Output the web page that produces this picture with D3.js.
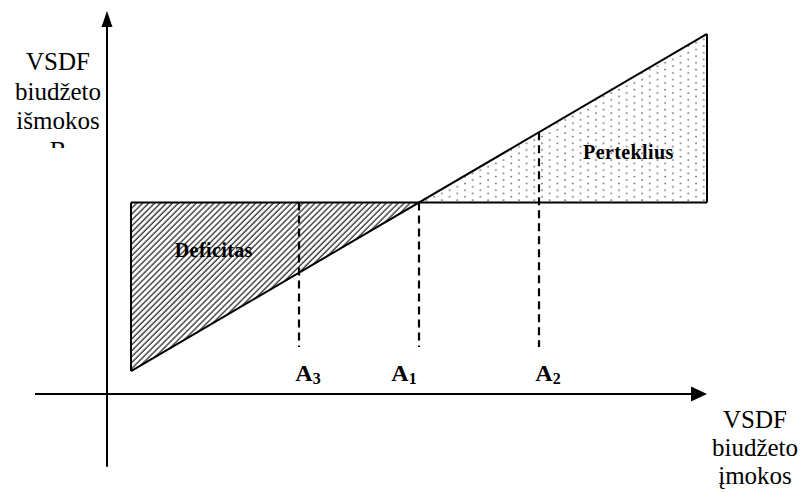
<!DOCTYPE html>
<html lang="lt">
<head>
<meta charset="utf-8">
<title>VSDF biudžetas</title>
<script src="https://cdn.jsdelivr.net/npm/d3@7"></script>
<style>
  body { margin: 0; background: #fff; }
  svg { display: block; }
  text { font-family: "Liberation Serif", "Times New Roman", serif; fill: #000; }
</style>
</head>
<body>
<script>
// chart values (in diagram units)
var axisXExtent = [-12, 100];
var axisYExtent = [-19, 100];
var outflowLevel = 50;                 // horizontal line: išmokos
var inflowLine = [[4, 6], [100, 94]];  // sloped line: įmokos
var pointNames = ["A", "A", "A"];
var pointSubs = ["3", "1", "2"];
var pointX = [32, 52, 72];
var dashFloor = 12.3;
var areaNames = ["Deficitas", "Perteklius"];
var yTitle = ["VSDF", "biudžeto", "išmokos", "B"];
var xTitle = ["VSDF", "biudžeto", "įmokos"];

var width = 802, height = 492;

var x = d3.scaleLinear().domain([0, 100]).range([107, 707]);
var y = d3.scaleLinear().domain([0, 100]).range([394, 11]);

function inflowAt(v) {
  var a = inflowLine[0], b = inflowLine[1];
  return a[1] + (v - a[0]) * (b[1] - a[1]) / (b[0] - a[0]);
}
function inflowInverse(level) {
  var a = inflowLine[0], b = inflowLine[1];
  return a[0] + (level - a[1]) * (b[0] - a[0]) / (b[1] - a[1]);
}
var cross = inflowInverse(outflowLevel);

var svg = d3.select("body").append("svg")
  .attr("width", width)
  .attr("height", height);

var defs = svg.append("defs");

// diagonal hatching for the deficit
var hatch = defs.append("pattern")
  .attr("id", "hatch")
  .attr("patternUnits", "userSpaceOnUse")
  .attr("width", 4.2).attr("height", 4.2)
  .attr("patternTransform", "rotate(45)");
hatch.append("rect").attr("width", 4.2).attr("height", 4.2).attr("fill", "#fff");
hatch.append("line")
  .attr("x1", 1).attr("y1", 0).attr("x2", 1).attr("y2", 4.2)
  .attr("stroke", "#3a3a3a").attr("stroke-width", 1.4);

// dot screen for the surplus
var dots = defs.append("pattern")
  .attr("id", "dots")
  .attr("patternUnits", "userSpaceOnUse")
  .attr("x", 1).attr("y", 1)
  .attr("width", 15.4).attr("height", 6.7);
dots.append("rect").attr("width", 15.4).attr("height", 6.7).attr("fill", "#fff");
dots.append("circle").attr("cx", 2).attr("cy", 1.5).attr("r", 0.85).attr("fill", "#555");
dots.append("circle").attr("cx", 9.7).attr("cy", 4.85).attr("r", 0.85).attr("fill", "#555");

defs.append("clipPath").attr("id", "clipTitle")
  .append("rect").attr("x", 0).attr("y", 0).attr("width", 105).attr("height", 148);

var line = d3.line().x(function(d) { return x(d[0]); }).y(function(d) { return y(d[1]); });

var left = inflowLine[0][0], right = inflowLine[1][0];

var deficit = [[left, outflowLevel], [cross, outflowLevel], [left, inflowAt(left)]];
var surplus = [[cross, outflowLevel], [right, outflowLevel], [right, inflowAt(right)]];

svg.append("path").attr("d", line(deficit) + "Z").attr("fill", "url(#hatch)");
svg.append("path").attr("d", line(surplus) + "Z").attr("fill", "url(#dots)");

// dashed guides
svg.selectAll(".guide")
  .data(pointX)
  .enter().append("line")
  .attr("class", "guide")
  .attr("x1", function(d) { return x(d); })
  .attr("x2", function(d) { return x(d); })
  .attr("y1", function(d) { return y(Math.max(outflowLevel, inflowAt(d))); })
  .attr("y2", y(dashFloor))
  .attr("stroke", "#000")
  .attr("stroke-width", 2.2)
  .attr("stroke-dasharray", "8,5");

// outlines
var outline = svg.append("g")
  .attr("stroke", "#000").attr("stroke-width", 2).attr("fill", "none");
outline.append("path").attr("d", line([[left, outflowLevel], [right, outflowLevel]]));
outline.append("path").attr("d", line(inflowLine));
outline.append("path").attr("d", line([[left, outflowLevel], [left, inflowAt(left)]]));
outline.append("path").attr("d", line([[right, outflowLevel], [right, inflowAt(right)]]));

// axes with arrows
var axes = svg.append("g");
axes.append("line")
  .attr("x1", x(axisXExtent[0])).attr("x2", x(axisXExtent[1]) - 14)
  .attr("y1", y(0)).attr("y2", y(0))
  .attr("stroke", "#000").attr("stroke-width", 2);
axes.append("line")
  .attr("x1", x(0)).attr("x2", x(0))
  .attr("y1", y(axisYExtent[0])).attr("y2", y(axisYExtent[1]) + 14)
  .attr("stroke", "#000").attr("stroke-width", 2);

var xt = x(axisXExtent[1]), yt = y(axisYExtent[1]);
axes.append("path")
  .attr("d", "M" + xt + "," + y(0) + "L" + (xt - 16) + "," + (y(0) - 7.5) + "L" + (xt - 16) + "," + (y(0) + 7.5) + "Z")
  .attr("fill", "#000");
axes.append("path")
  .attr("d", "M" + x(0) + "," + yt + "L" + (x(0) - 5.5) + "," + (yt + 16) + "L" + (x(0) + 5.5) + "," + (yt + 16) + "Z")
  .attr("fill", "#000");

// point labels A3, A1, A2
var labelShift = [9, -15, 9];
var pl = svg.selectAll(".plabel")
  .data(pointX)
  .enter().append("text")
  .attr("class", "plabel")
  .attr("x", function(d, i) { return x(d) + labelShift[i]; })
  .attr("y", 381)
  .attr("text-anchor", "middle")
  .attr("font-weight", "bold")
  .attr("font-size", 24);
pl.append("tspan").text(function(d, i) { return pointNames[i]; });
pl.append("tspan")
  .attr("font-size", 16)
  .attr("dy", 3)
  .text(function(d, i) { return pointSubs[i]; });

// area names
var areaPos = [[17.8, 35.8], [86.9, 61.4]];
svg.selectAll(".aname")
  .data(areaNames)
  .enter().append("text")
  .attr("class", "aname")
  .attr("x", function(d, i) { return x(areaPos[i][0]); })
  .attr("y", function(d, i) { return y(areaPos[i][1]); })
  .attr("text-anchor", "middle")
  .attr("font-weight", "bold")
  .attr("font-size", 20)
  .attr("letter-spacing", 0.4)
  .text(function(d) { return d; });

// axis titles
svg.append("g").attr("clip-path", "url(#clipTitle)")
  .selectAll("text")
  .data(yTitle)
  .enter().append("text")
  .attr("x", 58)
  .attr("y", function(d, i) { return 70 + i * 29.5; })
  .attr("text-anchor", "middle")
  .attr("font-size", 25)
  .text(function(d) { return d; });

svg.append("g")
  .selectAll("text")
  .data(xTitle)
  .enter().append("text")
  .attr("x", 755)
  .attr("y", function(d, i) { return 428 + i * 28; })
  .attr("text-anchor", "middle")
  .attr("font-size", 25)
  .text(function(d) { return d; });
</script>
</body>
</html>
